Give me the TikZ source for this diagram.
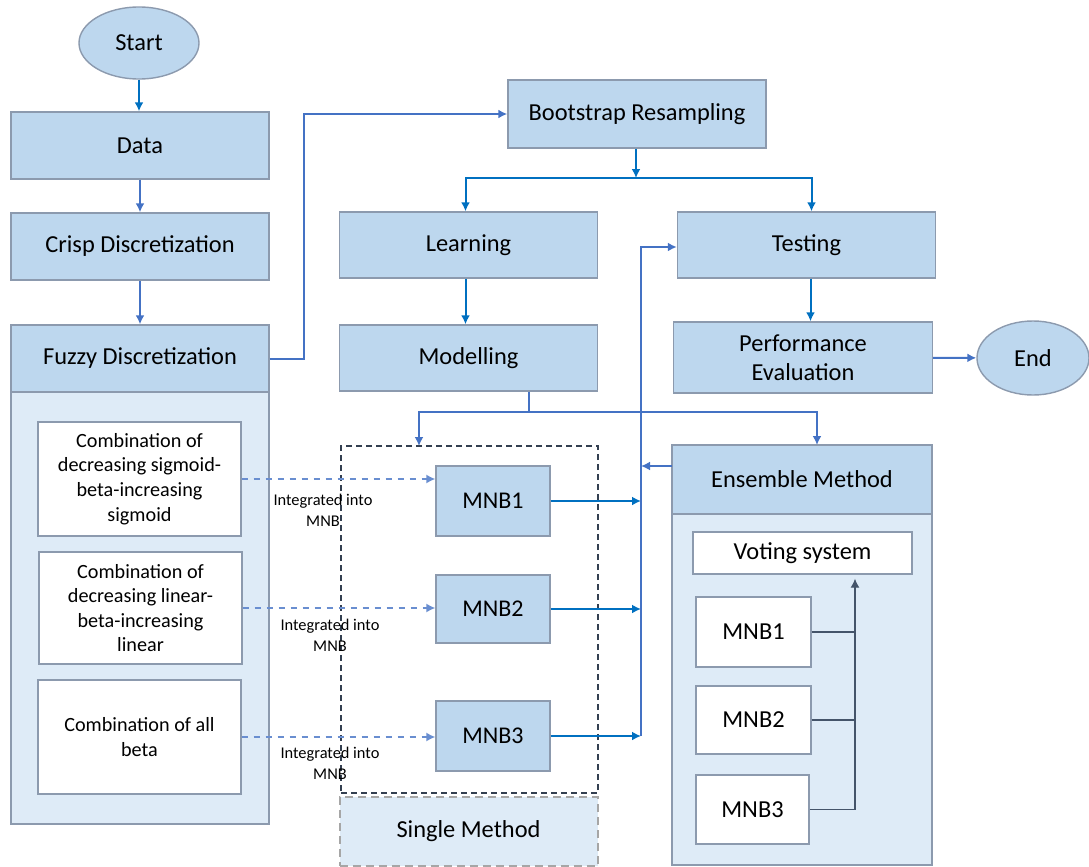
\documentclass[tikz,border=0pt]{standalone}
\usepackage{fontspec}
\setmainfont{Carlito}
\usetikzlibrary{arrows.meta,positioning,shapes.geometric,calc}
\definecolor{boxFill}{RGB}{189,215,238}
\definecolor{panelFill}{RGB}{222,235,247}
\definecolor{boxLine}{RGB}{140,154,174}
\definecolor{flowBlue}{RGB}{68,114,196}
\definecolor{flowCyan}{RGB}{0,112,192}
\definecolor{voteLine}{RGB}{68,84,106}
\definecolor{frameDark}{RGB}{51,63,80}
\tikzset{
  >={Latex[length=4.5pt,width=4.5pt]},
  box/.style = {draw=boxLine, line width=0.7pt, fill=boxFill, minimum width=129pt, minimum height=33.5pt, inner sep=0pt, align=center, font=\fontsize{12.2}{14.5}\selectfont},
  terminal/.style = {box, ellipse, minimum width=60pt, minimum height=36pt},
  panel/.style = {draw=boxLine, line width=0.7pt, fill=panelFill},
  combo/.style = {box, fill=white, minimum width=101.5pt, minimum height=57pt, font=\fontsize{10.1}{12.3}\selectfont},
  mnb/.style = {box, minimum width=57pt, minimum height=35pt, font=\fontsize{12}{14}\selectfont},
  voter/.style = {box, fill=white, minimum width=57.5pt, minimum height=35pt, font=\fontsize{12.2}{14}\selectfont},
  flow/.style = {->, line width=1pt, draw=flowBlue},
  flowC/.style = {->, line width=1pt, draw=flowCyan},
  dashedarrow/.style = {->, dashed, line width=0.7pt, draw=flowBlue!80},
  note/.style = {align=center, font=\fontsize{8.2}{10.5}\selectfont},
  vline/.style = {line width=0.6pt, draw=voteLine},
}

\begin{document}
\begin{tikzpicture}[x=0.5pt,y=-0.5pt]
  \useasboundingbox (0,0) rectangle (1089,867);

  % ----------------------------------------------------------------------
  % Left column: data preparation
  % ----------------------------------------------------------------------
  \draw[panel] (11,358) rectangle (269,824);
  \node[terminal] (start) at (139,43) {Start};
  \node[box] (data) at (140,145.5) {Data};
  \node[box] (crisp) at (140,246.5) {Crisp Discretization};
  \node[box] (fuzzy) at (140,358.5) {Fuzzy Discretization};

  \node[combo] (comb1) at (139.5,479) {Combination of\\decreasing sigmoid-\\beta-increasing\\sigmoid};
  \node[combo, minimum height=56pt] (comb2) at (140.5,608) {Combination of\\decreasing linear-\\beta-increasing\\linear};
  \node[combo] (comb3) at (139.5,737) {Combination of all\\beta};

  \draw[flowC] (start.south) -- (start.south |- data.north);
  \draw[flow] (data) -- (crisp);
  \draw[flow] (crisp) -- (fuzzy);

  % ----------------------------------------------------------------------
  % Resampling, learning and testing
  % ----------------------------------------------------------------------
  \node[box, minimum height=34pt] (boot) at (637,114) {Bootstrap Resampling};
  \node[box, minimum height=33pt] (learn) at (468.5,245) {Learning};
  \node[box, minimum height=33pt] (model) at (468.5,358) {Modelling};
  \node[box, minimum height=33pt] (test) at (806.5,245) {Testing};
  \node[box, minimum width=129.5pt, minimum height=35.5pt] (perf) at (803,357.5) {Performance\\Evaluation};
  \node[terminal, minimum width=56pt, minimum height=37pt] (end) at (1033,358) {End};

  \draw[flow] (fuzzy.east) -- ++(34,0) |- (boot.west);
  \coordinate (split) at (636,178);
  \draw[flowC] (boot.south -| split) -- (split);
  \draw[flowC] (split) -| ([xshift=-1.5pt]learn.north);
  \draw[flowC] (split) -| ([xshift=2.5pt]test.north);
  \draw[flowC] ([xshift=-1.5pt]learn.south) -- ([xshift=-1.5pt]model.north);
  \draw[flowC] ([xshift=2pt]test.south) -- ([xshift=2pt]test.south |- perf.north);
  \draw[flow] (perf) -- (end);

  % ----------------------------------------------------------------------
  % Single method
  % ----------------------------------------------------------------------
  \node[draw=frameDark, densely dashed, line width=0.6pt, minimum width=128.5pt, minimum height=173.5pt] (single) at (469.5,619.5) {};
  \node[box, fill=panelFill, draw=gray!70, dash pattern=on 4pt off 2.5pt, line width=1pt, minimum height=34.5pt] (singleLbl) at (468.5,831.5) {Single Method};

  \node[mnb] (mnb1) at (493,501) {MNB1};
  \node[mnb, minimum height=34pt] (mnb2) at (493,609) {MNB2};
  \node[mnb] (mnb3) at (493,736) {MNB3};

  \draw[dashedarrow] (comb1.east) -- (comb1.east -| mnb1.west);
  \draw[dashedarrow] (comb2.east) -- (comb2.east -| mnb2.west);
  \draw[dashedarrow] (comb3.east) -- (comb3.east -| mnb3.west);
  \node[note] (int1) at (323,510.5) {Integrated into\\MNB};
  \node[note] (int2) at (330,635.5) {Integrated into\\MNB};
  \node[note] (int3) at (330,763.5) {Integrated into\\MNB};

  % ----------------------------------------------------------------------
  % Ensemble method
  % ----------------------------------------------------------------------
  \draw[panel] (672,445) rectangle (932,865);
  \node[box, minimum width=130pt, minimum height=34.5pt] (ens) at (802,479.5) {Ensemble Method};
  \node[voter, minimum width=109.5pt, minimum height=21pt] (vote) at (802.5,553) {Voting system};
  \node[voter] (emnb1) at (753.5,632) {MNB1};
  \node[voter, minimum height=34pt] (emnb2) at (753.5,720) {MNB2};
  \node[voter, minimum width=56.5pt, minimum height=34.5pt] (emnb3) at (752.5,809.5) {MNB3};

  \coordinate (vbus) at (855,0);
  \draw[vline] (emnb1.east) -- (emnb1.east -| vbus);
  \draw[vline] (emnb2.east) -- (emnb2.east -| vbus);
  \draw[vline, ->] (emnb3.east) -- (emnb3.east -| vbus) -- ([yshift=-2pt]vote.south -| vbus);

  % Modelling feeds both methods
  \coordinate (fork) at (529,412);
  \draw[flowBlue, line width=1pt] (model.south -| fork) -- (fork);
  \draw[flow] (fork) -| (419,446);
  \draw[flow] (fork) -| (817,445);

  % Collector towards testing
  \coordinate (bus) at (641,0);
  \draw[flowC] (mnb1.east) -- (mnb1.east -| bus);
  \draw[flowC] (mnb2.east) -- (mnb2.east -| bus);
  \draw[flowC] (mnb3.east) -- (mnb3.east -| bus);
  \draw[flow] (mnb3.east -| bus) -- (bus |- 0,247) -- (test.west |- 0,247);
  \coordinate (ensIn) at (672,466);
  \draw[flow] (ensIn) -- (ensIn -| bus);
\end{tikzpicture}
\end{document}
